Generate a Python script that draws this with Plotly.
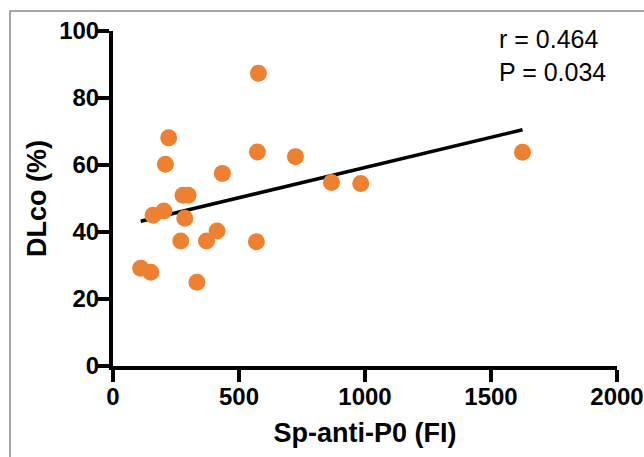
import plotly.graph_objects as go

# Data
sp_anti_p0 = [577, 221, 208, 573, 724, 434, 867, 983, 278, 298, 202, 159,
              285, 413, 269, 371, 569, 110, 150, 333, 1625]
dlco = [87.4, 68.1, 60.2, 63.9, 62.5, 57.5, 54.8, 54.5, 51.0, 51.0, 46.3, 45.0,
        44.1, 40.3, 37.3, 37.3, 37.1, 29.2, 28.0, 25.0, 63.8]

fit_x = [110, 1625]
fit_y = [43.2, 70.5]

x_ticks = [0, 500, 1000, 1500, 2000]
y_ticks = [0, 20, 40, 60, 80, 100]

stats_text = "r = 0.464<br>P = 0.034"

FONT = "Liberation Sans, Arial"

fig = go.Figure()
fig.add_trace(go.Scatter(x=fit_x, y=fit_y, mode="lines",
                         line=dict(color="black", width=3.5),
                         hoverinfo="skip", showlegend=False))
fig.add_trace(go.Scatter(x=sp_anti_p0, y=dlco, mode="markers",
                         marker=dict(color="#EE8131", size=17, line=dict(width=0)),
                         showlegend=False))

axis_common = dict(showline=True, linecolor="black", linewidth=4,
                   ticks="outside", ticklen=12, tickwidth=4, tickcolor="black",
                   showgrid=False, zeroline=False, automargin=False,
                   tickfont=dict(family=FONT, size=24, color="black", weight="bold"))

fig.update_xaxes(range=[0, 2000], tickvals=x_ticks, ticktext=[str(v) for v in x_ticks],
                 ticklabelstandoff=-6,
                 title=dict(text="<b>Sp-anti-P0 (FI)</b>",
                            font=dict(family=FONT, size=27, color="black"),
                            standoff=15),
                 **axis_common)
fig.update_yaxes(range=[0, 100], tickvals=y_ticks, ticktext=[str(v) for v in y_ticks],
                 ticklabelstandoff=-7,
                 title=dict(text="<b>DLco (%)</b>",
                            font=dict(family=FONT, size=27, color="black"),
                            standoff=6),
                 **axis_common)

fig.add_annotation(x=0.762, y=1.025, xref="paper", yref="paper", xanchor="left", yanchor="top",
                   text=stats_text, showarrow=False, align="left",
                   font=dict(family=FONT, size=25, color="black"))

# outer frame of the figure panel
fig.add_shape(type="rect", xref="paper", yref="paper",
              x0=-0.2044, y0=-1.0, x1=2.0, y1=1.06,
              line=dict(color="#8a8a8a", width=1.5), fillcolor="rgba(0,0,0,0)", layer="below")

fig.update_layout(width=644, height=457,
                  margin=dict(l=113, r=27, t=31, b=91),
                  paper_bgcolor="white", plot_bgcolor="white",
                  font=dict(family=FONT))

fig.write_html("out.html", config={"displayModeBar": False},
               post_script="document.body.style.margin='0';document.body.style.overflow='hidden';")
